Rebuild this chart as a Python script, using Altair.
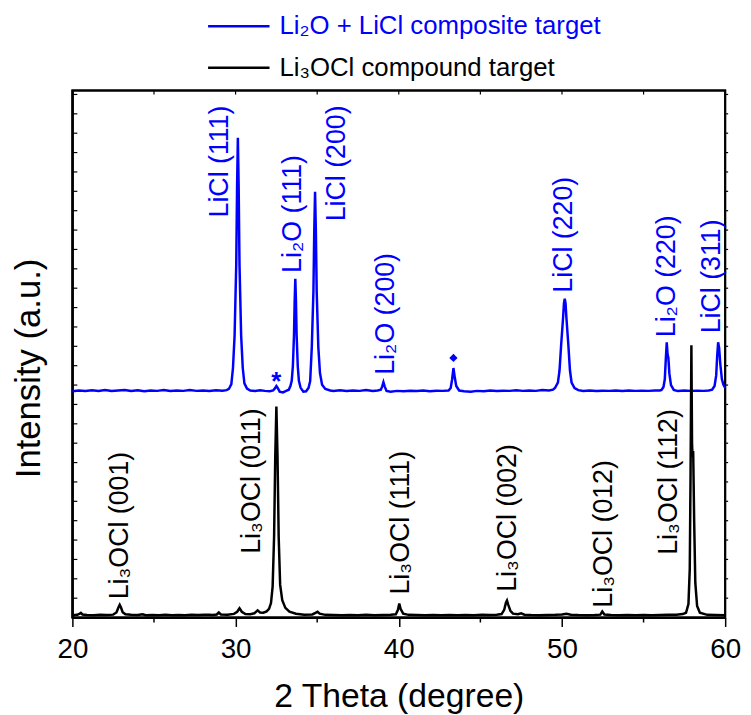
import altair as alt
import pandas as pd

FONT = "Liberation Sans"
BLUE = "#0000FF"
BLACK = "#000000"

series_names = ["Li\u2082O + LiCl composite target", "Li\u2083OCl compound target"]
series_colors = [BLUE, BLACK]

blue_points = [
    (20.0, 11.68), (20.4, 11.72), (20.8, 11.69), (21.2, 11.73), (21.6, 11.70), (22.0, 11.74),
    (22.4, 11.69), (22.8, 11.72), (23.2, 11.75), (23.6, 11.70), (24.0, 11.73), (24.4, 11.68),
    (24.8, 11.72), (25.2, 11.70), (25.6, 11.74), (26.0, 11.69), (26.4, 11.72), (26.8, 11.70),
    (27.2, 11.74), (27.6, 11.70), (28.0, 11.72), (28.4, 11.69), (28.8, 11.73), (29.2, 11.71),
    (29.45, 11.74), (29.59, 11.80), (29.74, 12.05), (29.84, 12.88), (29.94, 14.57), (30.04, 18.23),
    (30.09, 22.15), (30.14, 24.76), (30.19, 22.15), (30.24, 18.23), (30.34, 14.57), (30.44, 12.88),
    (30.54, 12.09), (30.7, 11.82), (30.9, 11.72), (31.2, 11.70), (31.5, 11.73), (31.8, 11.70),
    (32.1, 11.68), (32.3, 11.72), (32.42, 11.84), (32.5, 11.95), (32.58, 11.85), (32.7, 11.66),
    (32.9, 11.62), (33.1, 11.70), (33.26, 11.76), (33.36, 11.95), (33.44, 12.22), (33.51, 12.97),
    (33.58, 14.59), (33.62, 16.32), (33.66, 17.48), (33.70, 16.32), (33.74, 14.59), (33.81, 12.97),
    (33.88, 12.22), (33.98, 11.87), (34.15, 11.66), (34.32, 11.68), (34.47, 11.85), (34.57, 12.20),
    (34.67, 13.96), (34.77, 16.84), (34.82, 19.92), (34.87, 21.98), (34.92, 19.92), (34.97, 16.84),
    (35.07, 13.96), (35.17, 12.63), (35.3, 12.02), (35.5, 11.80), (35.8, 11.72), (36.0, 11.70),
    (36.4, 11.73), (36.8, 11.69), (37.2, 11.72), (37.6, 11.70), (38.0, 11.74), (38.4, 11.69),
    (38.7, 11.72), (38.9, 11.76), (38.98, 11.92), (39.06, 12.15), (39.14, 11.92), (39.25, 11.70),
    (39.5, 11.66), (39.9, 11.70), (40.3, 11.68), (40.7, 11.71), (41.1, 11.69), (41.5, 11.72),
    (41.9, 11.68), (42.3, 11.71), (42.7, 11.70), (43.05, 11.72), (43.18, 11.85), (43.27, 12.30),
    (43.35, 12.88), (43.43, 12.40), (43.52, 11.95), (43.7, 11.72), (44.0, 11.68), (44.4, 11.66),
    (44.8, 11.70), (45.2, 11.68), (45.6, 11.72), (46.0, 11.69), (46.4, 11.71), (46.8, 11.70),
    (47.2, 11.73), (47.6, 11.70), (48.0, 11.72), (48.4, 11.70), (48.8, 11.74), (49.2, 11.72),
    (49.45, 11.76), (49.57, 11.85), (49.75, 12.13), (49.85, 12.75), (49.95, 14.08), (50.07, 15.50),
    (50.12, 16.22), (50.17, 16.46), (50.22, 16.22), (50.27, 15.50), (50.39, 14.08), (50.49, 12.75),
    (50.59, 12.13), (50.77, 11.85), (51.0, 11.74), (51.3, 11.70), (51.7, 11.72), (52.1, 11.69),
    (52.5, 11.71), (52.9, 11.70), (53.3, 11.72), (53.7, 11.69), (54.1, 11.72), (54.5, 11.70),
    (54.9, 11.71), (55.3, 11.70), (55.7, 11.72), (56.0, 11.72), (56.1, 11.75), (56.22, 11.90),
    (56.3, 12.30), (56.36, 13.30), (56.42, 14.21), (56.47, 13.60), (56.52, 13.40), (56.58, 12.60),
    (56.68, 12.00), (56.85, 11.75), (57.1, 11.69), (57.5, 11.72), (57.9, 11.70), (58.3, 11.71),
    (58.7, 11.70), (59.0, 11.72), (59.2, 11.76), (59.35, 11.95), (59.45, 12.50), (59.51, 13.50),
    (59.57, 14.21), (59.63, 13.90), (59.70, 13.10), (59.80, 12.30), (59.90, 12.00), (60.0, 11.85),
]

black_points = [
    (20.0, 0.12), (20.3, 0.14), (20.45, 0.20), (20.52, 0.24), (20.62, 0.16), (20.9, 0.13),
    (21.3, 0.12), (21.7, 0.14), (22.1, 0.13), (22.5, 0.15), (22.7, 0.26), (22.82, 0.52),
    (22.9, 0.66), (22.98, 0.52), (23.08, 0.28), (23.25, 0.17), (23.6, 0.14), (24.0, 0.13),
    (24.3, 0.17), (24.5, 0.12), (24.9, 0.13), (25.3, 0.12), (25.7, 0.14), (26.1, 0.12),
    (26.5, 0.13), (26.9, 0.12), (27.3, 0.14), (27.7, 0.13), (28.1, 0.14), (28.4, 0.15),
    (28.6, 0.13), (28.85, 0.16), (28.97, 0.26), (29.1, 0.16), (29.5, 0.15), (29.9, 0.19),
    (30.1, 0.30), (30.24, 0.48), (30.38, 0.30), (30.6, 0.18), (30.9, 0.17), (31.15, 0.22),
    (31.35, 0.37), (31.5, 0.26), (31.7, 0.25), (31.9, 0.32), (32.05, 0.45), (32.17, 0.75),
    (32.27, 1.60), (32.36, 4.20), (32.43, 8.30), (32.5, 10.89), (32.57, 8.30), (32.64, 4.20),
    (32.73, 1.70), (32.86, 0.90), (33.05, 0.50), (33.3, 0.30), (33.7, 0.20), (34.2, 0.15),
    (34.7, 0.16), (34.9, 0.24), (35.02, 0.30), (35.15, 0.20), (35.5, 0.14), (36.0, 0.13),
    (36.5, 0.12), (37.0, 0.13), (37.5, 0.12), (38.0, 0.14), (38.5, 0.12), (39.0, 0.13),
    (39.5, 0.14), (39.82, 0.17), (39.95, 0.40), (40.03, 0.72), (40.11, 0.45), (40.27, 0.20),
    (40.6, 0.14), (41.1, 0.13), (41.6, 0.12), (42.1, 0.13), (42.6, 0.12), (43.1, 0.13),
    (43.6, 0.12), (44.1, 0.13), (44.6, 0.12), (45.1, 0.14), (45.6, 0.13), (46.0, 0.15),
    (46.3, 0.18), (46.46, 0.40), (46.57, 0.78), (46.63, 0.88), (46.71, 0.65), (46.84, 0.35),
    (47.0, 0.20), (47.3, 0.17), (47.5, 0.22), (47.7, 0.15), (48.1, 0.13), (48.6, 0.12),
    (49.1, 0.13), (49.6, 0.14), (50.0, 0.16), (50.27, 0.20), (50.55, 0.15), (51.0, 0.13),
    (51.5, 0.12), (52.0, 0.13), (52.35, 0.15), (52.47, 0.31), (52.6, 0.16), (53.0, 0.13),
    (53.5, 0.12), (54.0, 0.13), (54.5, 0.12), (55.0, 0.13), (55.5, 0.12), (56.0, 0.13),
    (56.5, 0.14), (57.0, 0.15), (57.4, 0.18), (57.6, 0.25), (57.75, 0.70), (57.83, 2.50),
    (57.88, 7.50), (57.93, 14.06), (57.97, 9.00), (58.0, 8.30), (58.04, 8.59), (58.1, 5.00),
    (58.17, 1.80), (58.28, 0.60), (58.45, 0.25), (58.9, 0.14), (59.4, 0.13), (60.0, 0.12),
]

blue_labels = ["LiCl (111)", "Li\u2082O (111)", "LiCl (200)", "Li\u2082O (200)",
               "LiCl (220)", "Li\u2082O (220)", "LiCl (311)"]
blue_label_x = [29.06, 33.52, 36.19, 39.23, 50.11, 56.44, 59.21]
blue_label_y = [20.65, 17.79, 20.45, 12.53, 16.77, 14.47, 14.67]

black_labels = ["Li\u2083OCl (001)", "Li\u2083OCl (011)", "Li\u2083OCl (111)",
                "Li\u2083OCl (002)", "Li\u2083OCl (012)", "Li\u2083OCl (112)"]
black_label_x = [22.95, 31.0, 40.15, 46.7, 52.6, 56.54]
black_label_y = [0.94, 3.29, 1.19, 1.33, 0.51, 3.24]

asterisk_pos = (32.5, 11.75)
diamond_pos = (43.35, 13.4)

x_major = [20, 30, 40, 50, 60]
x_minor = [25, 35, 45, 55]
x_top_ticks = [25, 30, 35, 40, 45, 50, 55]
y_ticks = [1, 2, 3, 4, 5, 6, 7, 8, 9, 10, 11, 12, 13, 14, 15, 16, 17, 18, 19, 20,
           21, 22, 23, 24, 25, 26, 27]
x_limits = [20, 60]
y_limits = [0, 27.2]

W, H = 659, 532

blue_df = pd.DataFrame(blue_points, columns=["theta", "intensity"])
black_df = pd.DataFrame(black_points, columns=["theta", "intensity"])
blue_lab_df = pd.DataFrame({"theta": blue_label_x, "intensity": blue_label_y, "label": blue_labels})
black_lab_df = pd.DataFrame({"theta": black_label_x, "intensity": black_label_y, "label": black_labels})
minor_df = pd.DataFrame({"theta": x_minor})
top_df = pd.DataFrame({"theta": x_top_ticks})
ytick_df = pd.DataFrame({"intensity": y_ticks})
box_df = pd.DataFrame({"theta": [x_limits[0]], "theta2": [x_limits[1]],
                       "intensity": [y_limits[0]], "intensity2": [y_limits[1]]})

xscale = alt.Scale(domain=x_limits, nice=False, zero=False)
yscale = alt.Scale(domain=y_limits, nice=False, zero=False)

x_axis = alt.Axis(values=x_major, title="2 Theta (degree)", tickSize=9, tickWidth=1.5,
                  tickColor=BLACK, labelFontSize=28, labelColor=BLACK, labelFont=FONT,
                  labelPadding=9, labelFlush=False, labelOverlap=False,
                  titleFont=FONT, titleFontSize=34, titleFontWeight="normal",
                  titleColor=BLACK, titlePadding=17, domain=True, domainColor=BLACK,
                  domainWidth=2, grid=False, format="d")
y_axis = alt.Axis(labels=False, ticks=False, domain=True, domainColor=BLACK, domainWidth=2,
                  grid=False,
                  title="Intensity (a.u.)", titleFont=FONT, titleFontSize=35,
                  titleFontWeight="normal", titleColor=BLACK, titleX=-33, titleY=280,
                  titleBaseline="alphabetic", titleAngle=270, titleAlign="center")


def xenc():
    return alt.X("theta:Q", scale=xscale, axis=x_axis)


def yenc():
    return alt.Y("intensity:Q", scale=yscale, axis=y_axis)


box = alt.Chart(box_df).mark_rect(
    filled=False, stroke=BLACK, strokeWidth=2, fillOpacity=0
).encode(x=xenc(), x2="theta2:Q", y=yenc(), y2="intensity2:Q")

blue_line = alt.Chart(blue_df).mark_line(color=BLUE, strokeWidth=2.5, interpolate="linear").encode(
    x=xenc(), y=yenc(), order="theta:Q")
black_line = alt.Chart(black_df).mark_line(color=BLACK, strokeWidth=2.5, interpolate="linear").encode(
    x=xenc(), y=yenc(), order="theta:Q")

blue_text = alt.Chart(blue_lab_df).mark_text(
    angle=270, align="left", baseline="middle", font=FONT, fontSize=27, color=BLUE
).encode(x=xenc(), y=yenc(), text="label:N")
black_text = alt.Chart(black_lab_df).mark_text(
    angle=270, align="left", baseline="middle", font=FONT, fontSize=27, color=BLACK
).encode(x=xenc(), y=yenc(), text="label:N")

ast = alt.Chart(pd.DataFrame({"theta": [asterisk_pos[0]], "intensity": [asterisk_pos[1]], "t": ["*"]})).mark_text(
    align="center", baseline="alphabetic", font=FONT, fontSize=26, fontWeight="bold", color=BLUE
).encode(x=xenc(), y=yenc(), text="t:N")
dia = alt.Chart(pd.DataFrame({"theta": [diamond_pos[0]], "intensity": [diamond_pos[1]]})).mark_point(
    shape="diamond", filled=True, size=70, color=BLUE, opacity=1
).encode(x=xenc(), y=yenc())

minor_ticks = alt.Chart(minor_df).mark_rule(color=BLACK, strokeWidth=1.5).encode(
    x=xenc(), y=alt.value(H), y2=alt.value(H + 5))
top_ticks = alt.Chart(top_df).mark_rule(color=BLACK, strokeWidth=1.2).encode(
    x=xenc(), y=alt.value(0), y2=alt.value(4))
left_ticks = alt.Chart(ytick_df).mark_rule(color=BLACK, strokeWidth=1.2).encode(
    y=yenc(), x=alt.value(0), x2=alt.value(5))
right_ticks = alt.Chart(ytick_df).mark_rule(color=BLACK, strokeWidth=1.2).encode(
    y=yenc(), x=alt.value(W), x2=alt.value(W + 3))

leg_layers = []
for i, (nm, col) in enumerate(zip(series_names, series_colors)):
    ypix = -65 if i == 0 else -23
    d = pd.DataFrame({"name": [nm]})
    leg_layers.append(alt.Chart(d).mark_rule(color=col, strokeWidth=2.5).encode(
        x=alt.value(137), x2=alt.value(199), y=alt.value(ypix)))
    leg_layers.append(alt.Chart(d).mark_text(
        align="left", baseline="middle", font=FONT, fontSize=26, color=col
    ).encode(x=alt.value(209), y=alt.value(ypix), text="name:N"))

chart = alt.layer(
    box, blue_line, black_line, blue_text, black_text, ast, dia,
    minor_ticks, top_ticks, left_ticks, right_ticks, *leg_layers
).properties(
    width=W, height=H,
    padding={"left": 65, "top": 80, "right": 18, "bottom": 95},
    autosize=alt.AutoSizeParams(type="none"),
    background="white",
).configure_view(stroke=BLACK, strokeWidth=2)

chart.save("out.html", embed_options={"renderer": "svg", "actions": False})
